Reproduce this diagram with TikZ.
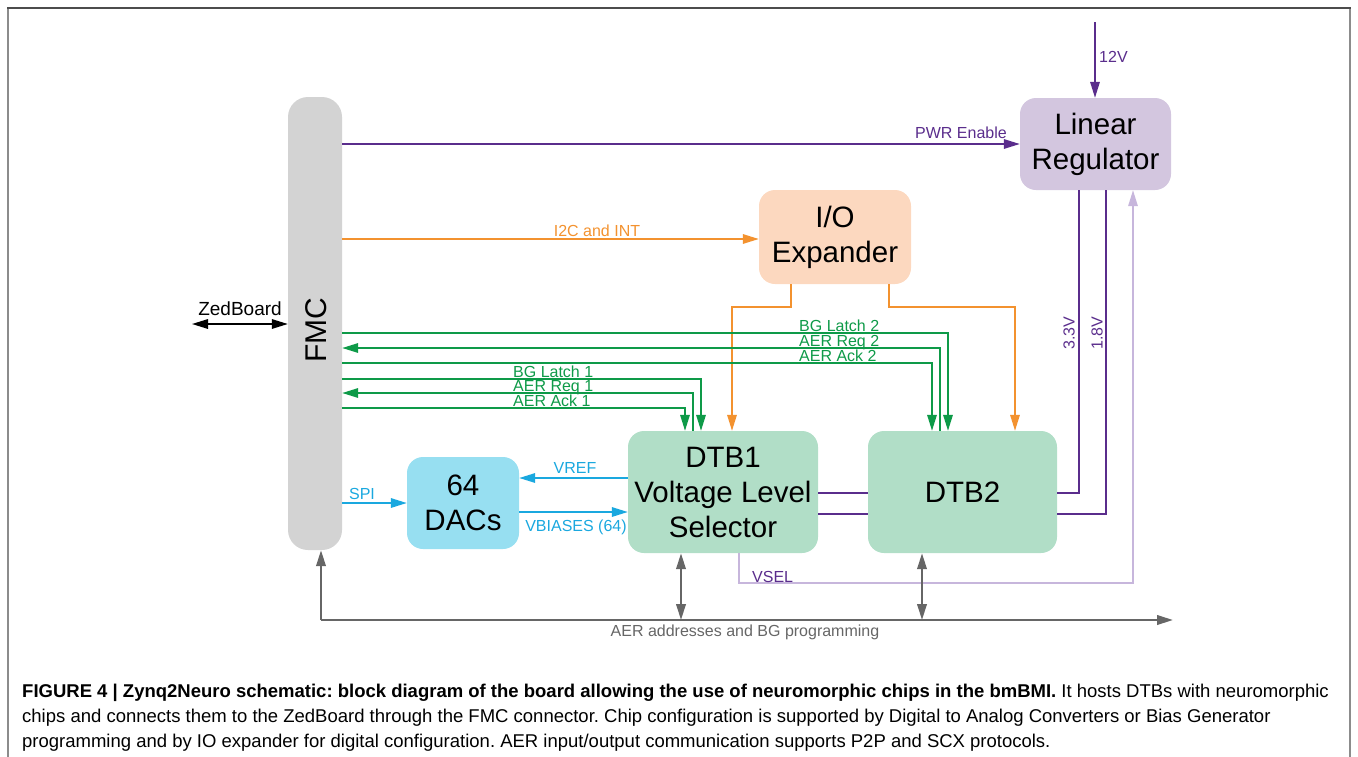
\documentclass[tikz,border=0pt]{standalone}
\usepackage{fontspec}
\setmainfont{Liberation Sans}
\usetikzlibrary{arrows.meta}
\definecolor{pur}{HTML}{5A2D8C}
\definecolor{lpur}{HTML}{C7B6DC}
\definecolor{regfill}{HTML}{D3C6DF}
\definecolor{org}{HTML}{F3922F}
\definecolor{iofill}{HTML}{FCD8BF}
\definecolor{grn}{HTML}{0E9A48}
\definecolor{dtbfill}{HTML}{B1DEC7}
\definecolor{blu}{HTML}{1AA8DF}
\definecolor{dacfill}{HTML}{97DFF1}
\definecolor{fmcfill}{HTML}{D3D3D3}
\definecolor{busc}{HTML}{666666}
\tikzset{
  box/.style={rounded corners=16pt, inner sep=0pt, align=center, font=\fontsize{29.5}{35}\selectfont},
  lbl/.style={inner sep=0pt, font=\fontsize{16}{16}\selectfont},
  wire/.style={line width=1.6pt},
  tip/.style={-{Triangle[length=16pt,width=9.5pt]}},
  tips/.style={{Triangle[length=16pt,width=9.5pt]}-{Triangle[length=16pt,width=9.5pt]}},
  captxt/.style={anchor=base west, inner sep=0pt, font=\fontsize{18.5}{18.5}\selectfont},
}
\frenchspacing
\begin{document}
\begin{tikzpicture}[x=1pt,y=-1pt]
\useasboundingbox (0,0) rectangle (1358,756);
% frame
\draw[line width=2pt, color=black!45] (8,760) -- (8,8);
\draw[line width=2pt, color=black!45] (1350,8) -- (1350,760);
\draw[line width=2pt, color=black!70] (7,8) -- (1351,8);

% boxes
\node[box, fill=fmcfill, minimum width=54pt, minimum height=453pt, rounded corners=20pt] (fmc) at (315,323.5) {};
\node[rotate=90, inner sep=0pt, font=\fontsize{30}{30}\selectfont] (fmct) at (316,330) {FMC};
\node[box, fill=regfill, minimum width=151pt, minimum height=92pt] (linreg) at (1095.5,144) {Linear\\Regulator};
\node[box, fill=iofill, minimum width=152pt, minimum height=94pt] (ioexp) at (835,237) {I/O\\Expander};
\node[box, fill=dtbfill, minimum width=190pt, minimum height=122pt] (dtb1) at (723,492) {DTB1\\Voltage Level\\Selector};
\node[box, fill=dtbfill, minimum width=189pt, minimum height=122pt] (dtb2) at (962.5,492) {DTB2};
\node[box, fill=dacfill, minimum width=112pt, minimum height=92pt] (dacs) at (463,503) {64\\DACs};

% coordinates
\coordinate (zb) at (192,324);
\coordinate (v12) at (1095,22);
\coordinate (pwr) at (342,144);
\coordinate (i2c) at (342,239);
\coordinate (o1) at (791,307);
\coordinate (o2) at (732,307);
\coordinate (o3) at (889,307);
\coordinate (o4) at (1015,307);
\coordinate (g1) at (948,333);
\coordinate (g2) at (940,348);
\coordinate (g3) at (932,363);
\coordinate (g4) at (701,379);
\coordinate (g5) at (693,393);
\coordinate (g6) at (685,408);
\coordinate (p1) at (1079,493);
\coordinate (p2) at (1106,514);
\coordinate (vs1) at (739,583);
\coordinate (vs2) at (1133,583);
\coordinate (b0) at (321,620);
\coordinate (b1) at (1173,620);
\coordinate (a1) at (681,620);
\coordinate (a2) at (922,620);
\coordinate (spi) at (342,503);
\coordinate (vref) at (0,478);
\coordinate (vb) at (0,512);

% ZedBoard
\draw[tips, line width=1.6pt, black] (zb) -- (fmc.west |- zb);
\node[inner sep=0pt, font=\fontsize{19}{19}\selectfont] (zbt) at (240,309) {ZedBoard};

% power
\draw[wire, pur, tip] (v12) -- (v12 |- linreg.north);
\node[lbl, pur, anchor=west] (t12) at (1099,57) {12V};
\draw[wire, pur, tip] (fmc.east |- pwr) -- (linreg.west |- pwr);
\node[lbl, pur, anchor=base east] (tpwr) at (1007,138) {PWR Enable};
\draw[wire, pur] (p1 |- linreg.south) |- (dtb2.east |- p1);
\draw[wire, pur] (p2 |- linreg.south) |- (dtb2.east |- p2);
\draw[wire, pur] (dtb1.east |- p1) -- (dtb2.west |- p1);
\draw[wire, pur] (dtb1.east |- p2) -- (dtb2.west |- p2);
\node[lbl, pur, rotate=90] (t33) at (1069,333) {3.3V};
\node[lbl, pur, rotate=90] (t18) at (1097,333) {1.8V};
\draw[wire, lpur, tip] (vs1 |- dtb1.south) -- (vs1) -- (vs2) -- (vs2 |- linreg.south);
\node[lbl, pur, anchor=base west] (tvsel) at (752,582) {VSEL};

% I2C
\draw[wire, org, tip] (fmc.east |- i2c) -- (ioexp.west |- i2c);
\node[lbl, org, anchor=base] (ti2c) at (597,236) {I2C and INT};
\draw[wire, org, tip] (o1 |- ioexp.south) -- (o1) -- (o2) -- (o2 |- dtb1.north);
\draw[wire, org, tip] (o3 |- ioexp.south) -- (o3) -- (o4) -- (o4 |- dtb2.north);

% green signals
\draw[wire, grn, tip] (fmc.east |- g1) -| (g1 |- dtb2.north);
\draw[wire, grn, tip] (g2 |- dtb2.north) |- (fmc.east |- g2);
\draw[wire, grn, tip] (fmc.east |- g3) -| (g3 |- dtb2.north);
\draw[wire, grn, tip] (fmc.east |- g4) -| (g4 |- dtb1.north);
\draw[wire, grn, tip] (g5 |- dtb1.north) |- (fmc.east |- g5);
\draw[wire, grn, tip] (fmc.east |- g6) -| (g6 |- dtb1.north);
\node[lbl, grn, anchor=base west] (tg1) at (799,331.5) {BG Latch 2};
\node[lbl, grn, anchor=base west] (tg2) at (799,346.5) {AER Req 2};
\node[lbl, grn, anchor=base west] (tg3) at (799,361.5) {AER Ack 2};
\node[lbl, grn, anchor=base west] (tg4) at (513,377.5) {BG Latch 1};
\node[lbl, grn, anchor=base west] (tg5) at (513,391.5) {AER Req 1};
\node[lbl, grn, anchor=base west] (tg6) at (513,406) {AER Ack 1};

% DAC signals
\draw[wire, blu, tip] (fmc.east |- spi) -- (dacs.west |- spi);
\node[lbl, blu] (tspi) at (362,494) {SPI};
\draw[wire, blu, tip] (dtb1.west |- vref) -- (dacs.east |- vref);
\node[lbl, blu] (tvref) at (575,468) {VREF};
\draw[wire, blu, tip] (dacs.east |- vb) -- (dtb1.west |- vb);
\node[lbl, blu] (tvb) at (576,527) {VBIASES (64)};

% AER bus
\draw[line width=2.2pt, busc, tip] (b0) -- (b1);
\draw[line width=2.2pt, busc, tip] (b0) -- (b0 |- fmc.south);
\draw[line width=2.2pt, busc, tips] (a1) -- (a1 |- dtb1.south);
\draw[line width=2.2pt, busc, tips] (a2) -- (a2 |- dtb2.south);
\node[lbl, busc] (tbus) at (745,632) {AER addresses and BG programming};

% caption
\node[captxt] (c1) at (22,697) {\textbf{FIGURE 4 | Zynq2Neuro schematic: block diagram of the board allowing the use of neuromorphic chips in the bmBMI.} It hosts DTBs with neuromorphic};
\node[captxt] (c2) at (22,722) {chips and connects them to the ZedBoard through the FMC connector. Chip configuration is supported by Digital to Analog Converters or Bias Generator};
\node[captxt] (c3) at (22,747) {programming and by IO expander for digital configuration. AER input/output communication supports P2P and SCX protocols.};
\end{tikzpicture}
\end{document}
